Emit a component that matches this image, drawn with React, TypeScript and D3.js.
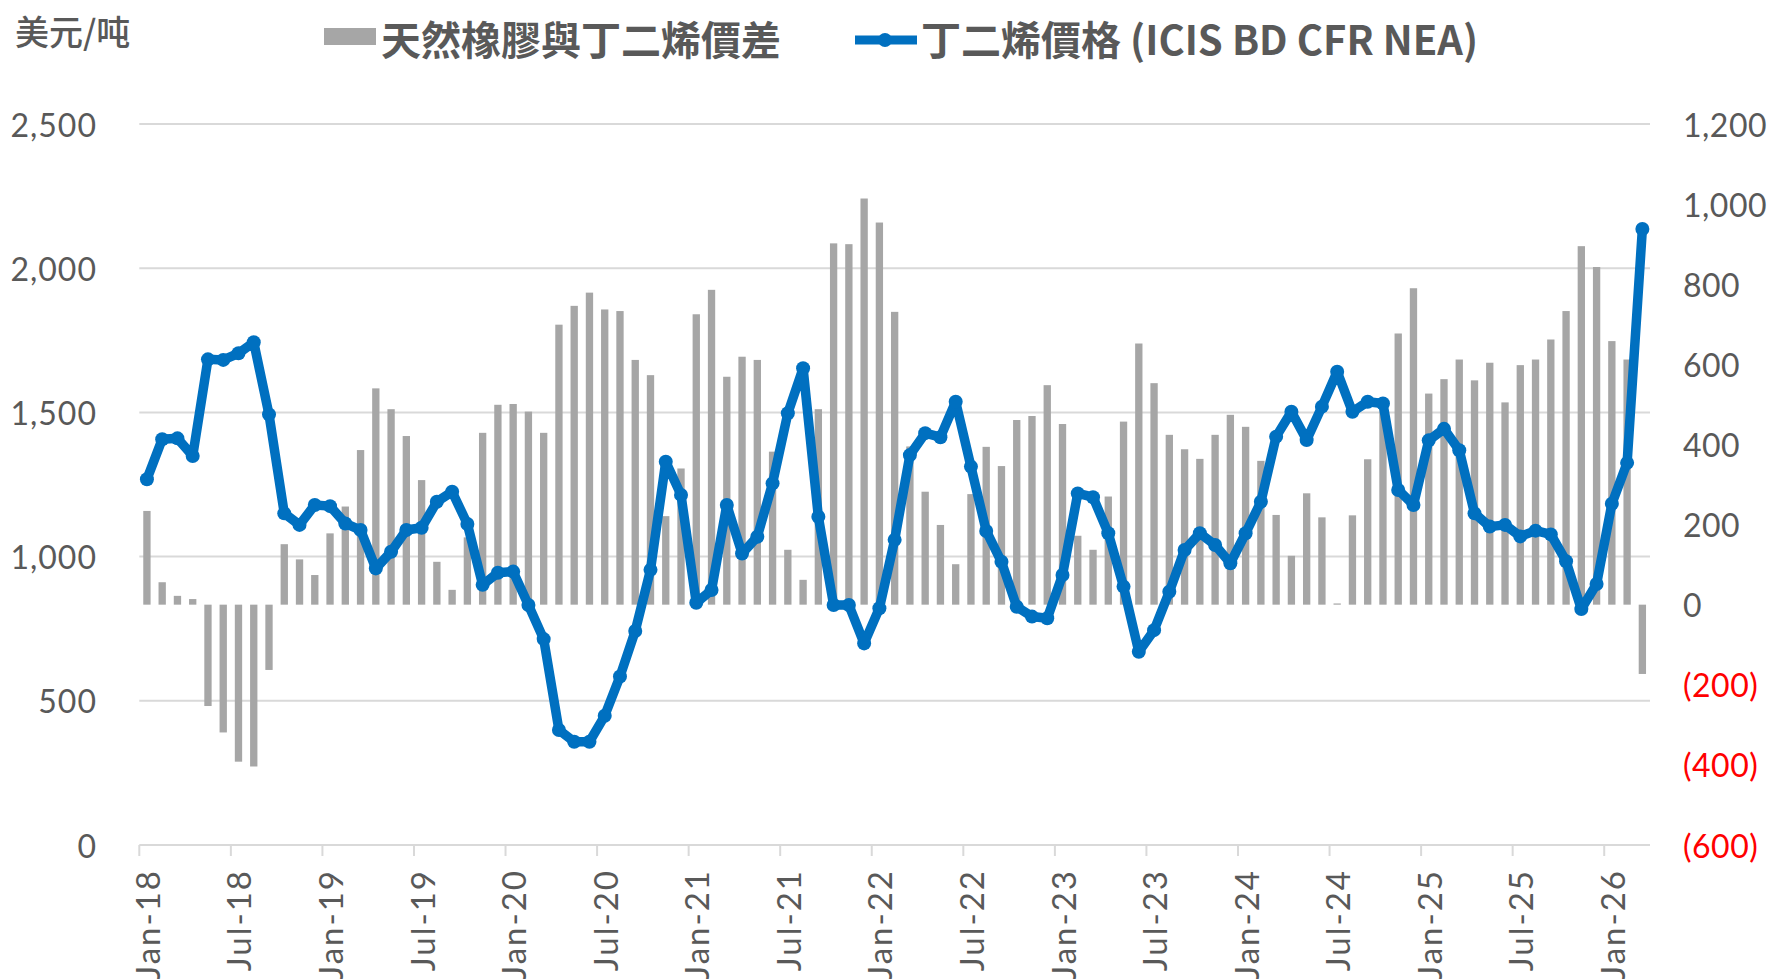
import { scaleBand, scaleLinear, line, format, timeMonth, timeFormat } from "d3";

// monthly categories Jan-18 .. Mar-26
const months = timeMonth.range(new Date(2018, 0, 1), new Date(2026, 3, 1)).map(timeFormat("%b-%y"));

// 天然橡膠與丁二烯價差 (right axis)
const spread = [
  234, 56, 22, 14, -253, -319, -392, -404, -163, 151, 113, 74,
  178, 245, 386, 540, 488, 421, 311, 107, 37, 168, 429, 499,
  501, 482, 429, 699, 746, 779, 737, 733, 611, 573, 221, 340,
  725, 786, 569, 619, 611, 382, 137, 62, 488, 902, 900, 1014,
  954, 731, 395, 282, 199, 101, 276, 394, 346, 461, 471, 548,
  451, 172, 137, 270, 457, 652, 553, 424, 388, 364, 424, 474,
  444, 359, 224, 122, 278, 218, 3, 223, 363, 505, 677, 790,
  527, 563, 612, 560, 604, 505, 598, 612, 662, 733, 895, 843,
  658, 612, -173,
];

// 丁二烯價格 (ICIS BD CFR NEA) (left axis)
const bdPrice = [
  1268, 1407, 1410, 1349, 1684, 1682, 1705, 1743, 1493, 1150, 1110, 1179,
  1175, 1115, 1092, 959, 1017, 1092, 1100, 1190, 1225, 1113, 902, 944,
  948, 832, 714, 399, 358, 358, 448, 584, 742, 954, 1329, 1214,
  840, 884, 1179, 1011, 1069, 1254, 1497, 1653, 1138, 832, 832, 699,
  821, 1058, 1352, 1428, 1414, 1537, 1312, 1089, 982, 826, 792, 786,
  936, 1219, 1206, 1081, 896, 670, 745, 878, 1023, 1081, 1040, 977,
  1081, 1190, 1416, 1502, 1404, 1520, 1641, 1502, 1537, 1531, 1231, 1179,
  1403, 1443, 1369, 1150, 1104, 1110, 1070, 1090, 1077, 984, 818, 905,
  1183, 1325, 2136,
];

const xTickLabels = [
  "Jan-18", "Jul-18", "Jan-19", "Jul-19", "Jan-20", "Jul-20", "Jan-21", "Jul-21",
  "Jan-22", "Jul-22", "Jan-23", "Jul-23", "Jan-24", "Jul-24", "Jan-25", "Jul-25", "Jan-26",
];
const leftTicks = [0, 500, 1000, 1500, 2000, 2500];
const rightTicks = [-600, -400, -200, 0, 200, 400, 600, 800, 1000, 1200];

const W = 1771;
const H = 979;
const top = 124;
const bottom = 845;
const left = 139.3;
const right = 1650;
const textGray = "#595959";
const barGray = "#A6A6A6";
const blue = "#0070C0";
const font = "Lato, 'Noto Sans', sans-serif";
const cjk = "'Noto Sans CJK TC', 'Noto Sans CJK SC', sans-serif";

export default function App() {
  const x = scaleBand().domain(months).range([left, right]).paddingInner(0.52).paddingOuter(0.26);
  const yL = scaleLinear().domain([0, 2500]).range([bottom, top]);
  const yR = scaleLinear().domain([-600, 1200]).range([bottom, top]);
  const bw = x.bandwidth();
  const half = (x.step() - bw) / 2;
  const fmt = format(",");

  const path = line<number>()
    .x((_, i) => x(months[i])! + bw / 2)
    .y(d => yL(d))(bdPrice);

  return (
    <svg width={W} height={H} style={{ position: "absolute", left: 0, top: 0, background: "#fff" }}>
      {/* gridlines */}
      {leftTicks.map(t => (
        <line key={t} x1={left} x2={right} y1={yL(t)} y2={yL(t)} stroke="#D9D9D9" strokeWidth={2} />
      ))}

      {/* spread bars */}
      {spread.map((v, i) => (
        <rect key={i} x={x(months[i])} width={bw} y={Math.min(yR(v), yR(0))}
          height={Math.abs(yR(v) - yR(0))} fill={barGray} />
      ))}

      {/* x axis ticks */}
      {xTickLabels.map(m => (
        <line key={m} x1={x(m)! - half} x2={x(m)! - half} y1={bottom} y2={bottom + 11} stroke="#D9D9D9" strokeWidth={2} />
      ))}

      {/* price line */}
      <path d={path!} fill="none" stroke={blue} strokeWidth={9.5} strokeLinejoin="round" />
      {bdPrice.map((v, i) => (
        <circle key={i} cx={x(months[i])! + bw / 2} cy={yL(v)} r={7} fill={blue} />
      ))}

      {/* left axis labels */}
      {leftTicks.map(t => (
        <text key={t} x={97} y={yL(t)} textAnchor="end" dominantBaseline="central"
          fontFamily={font} fontSize={32} letterSpacing={1} fill={textGray}>{fmt(t)}</text>
      ))}

      {/* right axis labels */}
      {rightTicks.map(t => (
        <text key={t} x={1683} y={yR(t)} dominantBaseline="central"
          fontFamily={font} fontSize={32} letterSpacing={0.5} fill={t < 0 ? "#FF0000" : textGray}>
          {t < 0 ? `(${fmt(-t)})` : fmt(t)}
        </text>
      ))}

      {/* x labels */}
      {xTickLabels.map(m => (
        <text key={m} transform={`translate(${x(m)! + bw / 2},869) rotate(-90)`} textAnchor="end"
          dominantBaseline="central" fontFamily={font} fontSize={33} letterSpacing={2} fill={textGray}>{m}</text>
      ))}

      {/* unit */}
      <text x={15} y={30} dominantBaseline="central" fontFamily="'Noto Sans CJK SC', sans-serif"
        fontSize={34} fontWeight={500} fill={textGray}>美元/吨</text>

      {/* legend */}
      <rect x={324} y={28} width={52} height={17} fill={barGray} />
      <text x={381} y={38} dominantBaseline="central" fontFamily={cjk} fontSize={40}
        fontWeight={700} fill={textGray}>天然橡膠與丁二烯價差</text>
      <line x1={855} x2={917} y1={40} y2={40} stroke={blue} strokeWidth={9} />
      <circle cx={885} cy={40} r={7} fill={blue} />
      <text x={921} y={38} dominantBaseline="central" fontFamily={cjk} fontSize={40}
        fontWeight={700} fill={textGray}>丁二烯價格 (ICIS BD CFR NEA)</text>
    </svg>
  );
}
